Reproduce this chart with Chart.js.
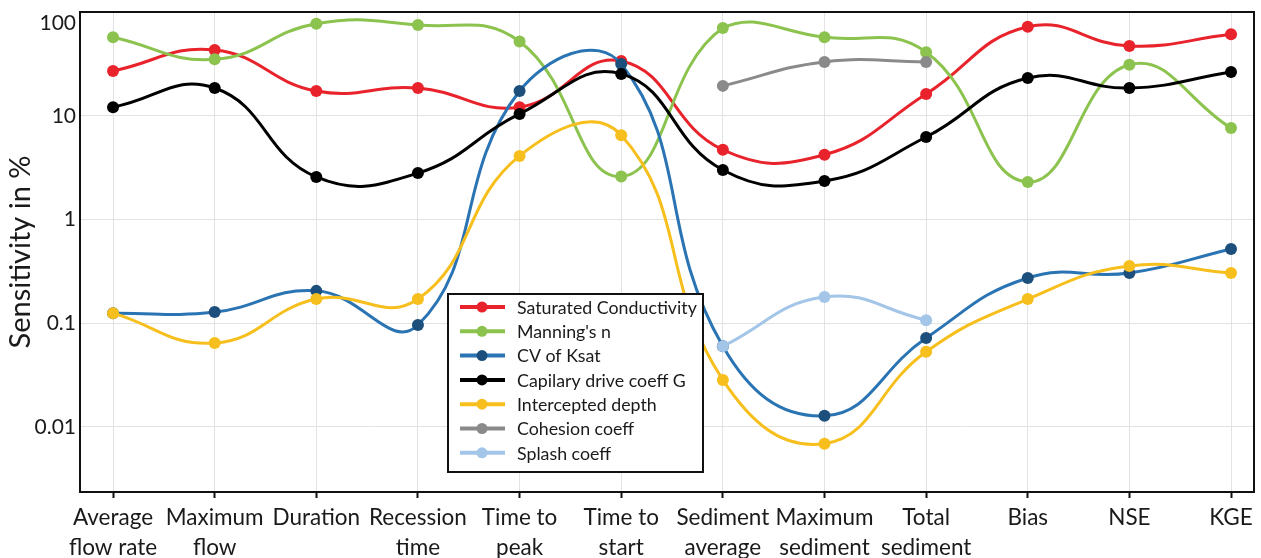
<!DOCTYPE html>
<html>
<head>
<meta charset="utf-8">
<script src="https://cdn.jsdelivr.net/npm/chart.js@4"></script>
<style>
  html, body { margin: 0; padding: 0; background: #fff; }
  #wrap { width: 1261px; height: 558px; }
</style>
</head>
<body>
<div id="wrap"><canvas id="c"></canvas></div>
<script>
// Performance measures on the x axis
const categories = [
  ["Average", "flow rate"], ["Maximum", "flow"], "Duration", ["Recession", "time"],
  ["Time to", "peak"], ["Time to", "start"], ["Sediment", "average"],
  ["Maximum", "sediment"], ["Total", "sediment"], "Bias", "NSE", "KGE"
];

// Sensitivity (%) of each measure to each parameter
const saturatedConductivity = [27, 43, 17.3, 18.5, 12.1, 33.7, 4.7, 4.2, 16.2, 72, 47, 61];
const manningsN            = [57, 35, 77, 75, 52, 2.6, 70, 57, 41, 2.3, 31, 7.6];
const cvOfKsat             = [0.125, 0.128, 0.205, 0.096, 17.3, 31.5, 0.060, 0.0128, 0.072, 0.273, 0.305, 0.52];
const capilaryDriveG       = [12.1, 18.5, 2.57, 2.8, 10.4, 25.3, 3.0, 2.35, 6.24, 23.1, 18.5, 26.4];
const interceptedDepth     = [0.125, 0.0645, 0.171, 0.171, 4.1, 6.5, 0.0284, 0.0069, 0.053, 0.171, 0.356, 0.305];
const cohesionCoeff        = [null, null, null, null, null, null, 19.4, 33, 33, null, null, null];
const splashCoeff          = [null, null, null, null, null, null, 0.060, 0.179, 0.107, null, null, null];

const yTickValues = [100, 10, 1, 0.1, 0.01];
const yTickLabels = ["100", "10", "1", "0.1", "0.01"];

const FONT = "Lato, 'Open Sans', sans-serif";

function series(label, values, line, marker) {
  const pts = [];
  values.forEach((v, i) => { if (v !== null) pts.push({ x: i, y: v }); });
  return {
    label, data: pts,
    borderColor: line, backgroundColor: marker,
    pointBackgroundColor: marker, pointBorderColor: marker,
    borderWidth: 3, pointRadius: 6, pointHoverRadius: 6, pointBorderWidth: 0,
    tension: 0.45, fill: false
  };
}

const datasets = [
  series("Saturated Conductivity", saturatedConductivity, "#e8232b", "#e8232b"),
  series("Manning's n", manningsN, "#8cc34f", "#8cc34f"),
  series("CV of Ksat", cvOfKsat, "#2a74b3", "#1d4f7d"),
  series("Capilary drive coeff G", capilaryDriveG, "#000000", "#000000"),
  series("Intercepted depth", interceptedDepth, "#f7bf1d", "#f7bf1d"),
  series("Cohesion coeff", cohesionCoeff, "#8a8a8a", "#8a8a8a"),
  series("Splash coeff", splashCoeff, "#a3c5e8", "#a3c5e8")
];
// later series are painted over earlier ones
datasets.forEach((d, i) => { d.order = datasets.length - i; });

const decorations = {
  id: 'decorations',
  afterDatasetsDraw(chart) {
    const ctx = chart.ctx, a = chart.chartArea;
    // legend box inside the plot
    const bx = a.left + 368, by = a.top + 282, bw = 255, bh = 178;
    ctx.save();
    ctx.fillStyle = '#fff';
    ctx.fillRect(bx, by, bw, bh);
    ctx.lineWidth = 2;
    ctx.strokeStyle = '#111';
    ctx.strokeRect(bx, by, bw, bh);
    ctx.font = "17.8px " + FONT;
    ctx.textBaseline = 'middle';
    ctx.textAlign = 'left';
    chart.data.datasets.forEach((d, i) => {
      const y = by + 13 + i * 24.3;
      ctx.strokeStyle = d.borderColor;
      ctx.lineWidth = 4;
      ctx.beginPath();
      ctx.moveTo(bx + 12, y);
      ctx.lineTo(bx + 57, y);
      ctx.stroke();
      ctx.fillStyle = d.pointBackgroundColor;
      ctx.beginPath();
      ctx.arc(bx + 34, y, 5.5, 0, Math.PI * 2);
      ctx.fill();
      ctx.fillStyle = '#1a1a1a';
      ctx.fillText(d.label, bx + 69, y + 1);
    });
    ctx.restore();
  },
  afterDraw(chart) {
    const ctx = chart.ctx, a = chart.chartArea;
    const yScale = chart.scales.y;
    ctx.save();
    // y tick labels, the top one kept inside the frame
    ctx.font = "21px " + FONT;
    ctx.fillStyle = '#1a1a1a';
    ctx.textAlign = 'right';
    ctx.textBaseline = 'middle';
    yTickValues.forEach((v, i) => {
      let y = yScale.getPixelForValue(v);
      y = Math.max(y, a.top + 11);
      ctx.fillText(yTickLabels[i], a.left - 4, y);
    });
    // frame round the plot area
    ctx.strokeStyle = '#111';
    ctx.lineWidth = 2;
    ctx.strokeRect(a.left, a.top, a.right - a.left, a.bottom - a.top);
    ctx.restore();
  }
};

new Chart(document.getElementById('c'), {
  type: 'line',
  data: { datasets },
  options: {
    responsive: true,
    maintainAspectRatio: false,
    animation: false,
    layout: { padding: { top: 12, right: 7, left: 0, bottom: 0 } },
    plugins: { legend: { display: false }, tooltip: { enabled: false } },
    scales: {
      x: {
        type: 'linear',
        min: -0.325,
        max: 11.226,
        afterBuildTicks(scale) { scale.ticks = categories.map((_, i) => ({ value: i })); },
        afterFit(scale) { scale.height = 66; },
        grid: { color: '#e3e3e3', lineWidth: 1, drawTicks: true, tickLength: 6, tickColor: '#111', tickWidth: 2 },
        border: { display: true, color: '#111', width: 2 },
        ticks: {
          autoSkip: false, maxRotation: 0, minRotation: 0, padding: 5,
          color: '#1a1a1a',
          font: { family: FONT, size: 22.5, lineHeight: 1.33 },
          callback(value) { return categories[value]; }
        }
      },
      y: {
        type: 'logarithmic',
        min: 0.00236,
        max: 100,
        afterBuildTicks(scale) { scale.ticks = yTickValues.map(v => ({ value: v })); },
        afterFit(scale) { scale.width = 80; },
        grid: { color: '#e3e3e3', lineWidth: 1, drawTicks: false },
        border: { display: true, color: '#111', width: 2 },
        ticks: { display: false },
        title: {
          display: true, text: 'Sensitivity in %', color: '#1a1a1a',
          font: { family: FONT, size: 29, lineHeight: 1.2 }, padding: { top: 3, bottom: 0 }
        }
      }
    }
  },
  plugins: [decorations]
});
</script>
</body>
</html>
